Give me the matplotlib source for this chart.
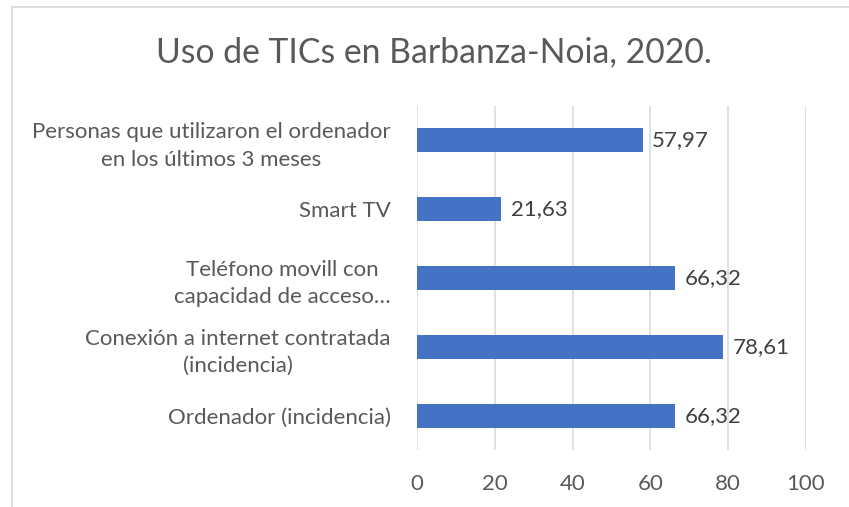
import matplotlib
matplotlib.use("Agg")
import matplotlib.pyplot as plt
from matplotlib.lines import Line2D

categories = [
    "Personas que utilizaron el ordenador\nen los últimos 3 meses",
    "Smart TV",
    "Teléfono movill con\ncapacidad de acceso…",
    "Conexión a internet contratada\n(incidencia)",
    "Ordenador (incidencia)",
]
values = [57.97, 21.63, 66.32, 78.61, 66.32]
value_labels = ["57,97", "21,63", "66,32", "78,61", "66,32"]
xticks = [0, 20, 40, 60, 80, 100]
title = "Uso de TICs en Barbanza-Noia, 2020."

plt.rcParams['font.family'] = ['Lato', 'DejaVu Sans']

W, H = 849, 507
fig = plt.figure(figsize=(W / 100, H / 100), dpi=100)
fig.patch.set_facecolor("white")

ax = fig.add_axes([417 / W, (H - 450) / H, 389 / W, 344 / H])
ypos = list(range(len(categories)))
ax.barh(ypos, values, height=0.35, color="#4472C4", zorder=3)
ax.set_ylim(len(categories) - 0.5, -0.5)
ax.set_xlim(0, 100)
ax.set_xticks(xticks)
ax.set_xticklabels([str(t) for t in xticks])
ax.set_yticks(ypos)
ax.set_yticklabels(categories)
for t in ax.get_yticklabels():
    t.set_multialignment("center")
    t.set_linespacing(1.45)
ax.tick_params(axis="both", length=0, colors="#595959", labelsize=16)
ax.tick_params(axis="x", pad=17)
ax.tick_params(axis="y", pad=19)
for s in ax.spines.values():
    s.set_visible(False)
ax.grid(axis="x", color="#D9D9D9", linewidth=1.1, zorder=0)
ax.set_axisbelow(True)

for y, v, lab in zip(ypos, values, value_labels):
    ax.annotate(lab, (v, y), xytext=(7, 0), textcoords="offset points",
                va="center", ha="left", fontsize=16, color="#404040")

fig.text(433.5 / W, 1 - 52 / H, title, ha="center", va="center",
         fontsize=24.3, color="#595959")

fig.add_artist(Line2D([12 / W, 1], [1 - 7 / H, 1 - 7 / H], color="#D9D9D9", lw=1.2))
fig.add_artist(Line2D([12 / W, 12 / W], [0, 1 - 7 / H], color="#D9D9D9", lw=1.2))

fig.savefig("out.png", dpi=100, facecolor="white")
